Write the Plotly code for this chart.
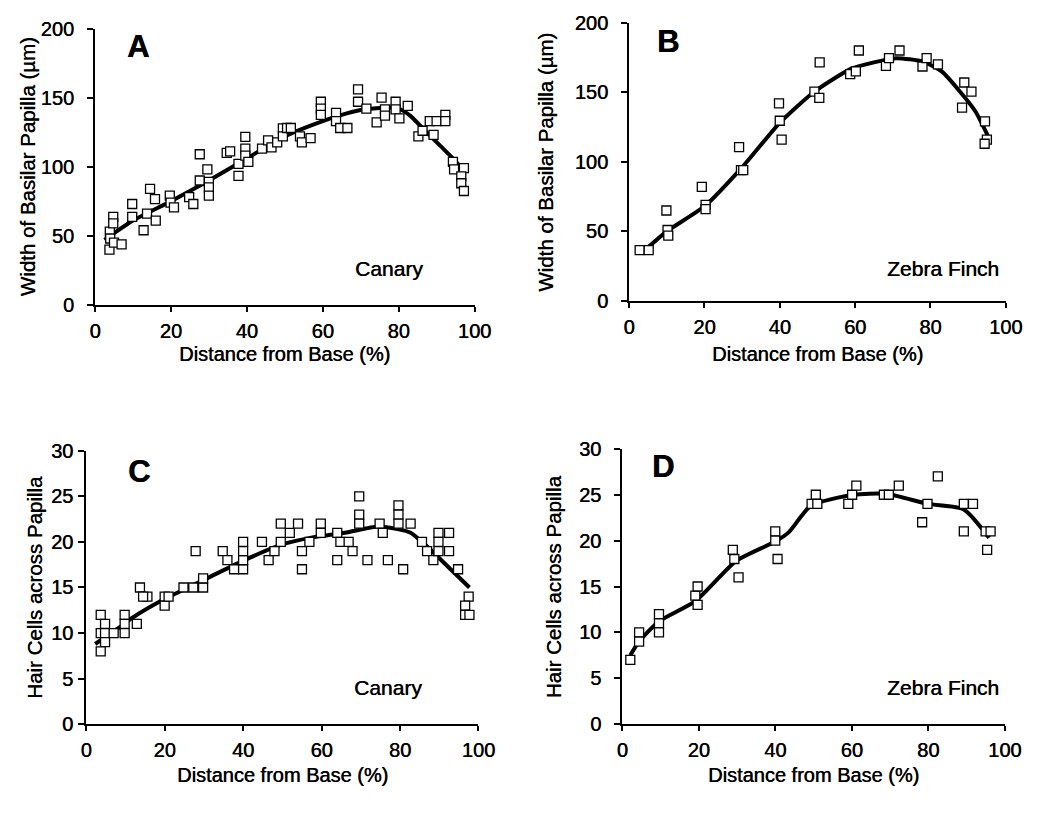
import plotly.graph_objects as go

# ---------------- Data ----------------
# Panel A: Canary, width of basilar papilla (um)
a_x = [3.8, 3.9, 4.8, 4.8, 4.0, 5.0, 7.0, 9.8, 9.8, 12.8, 13.7, 14.5, 15.8, 16.0, 19.7, 19.9, 20.8,
       24.8, 25.9, 27.6, 27.6, 29.6, 30.0, 30.0, 30.0, 34.7, 35.6, 37.8, 37.8, 39.6, 39.6, 39.6, 40.4,
       44.0, 45.6, 46.5, 48.0, 49.5, 49.5, 50.6, 51.6, 54.0, 54.5, 56.8, 59.5, 59.5, 59.5, 63.5, 63.5,
       64.6, 66.5, 69.3, 69.3, 71.5, 74.2, 75.5, 76.4, 76.4, 79.2, 79.2, 80.2, 82.4, 85.2, 86.3, 88.2,
       89.2, 90.0, 92.3, 92.3, 94.3, 94.6, 97.2, 96.5, 96.5, 97.2]
a_y = [40, 53, 63.6, 59, 48, 45, 43.7, 73, 63.6, 54, 66, 84, 76.5, 61, 79, 74, 70.6,
       78, 73, 109, 90, 98, 89, 85, 79, 110, 111, 102, 93.4, 121.6, 113, 108, 103.5,
       113, 119, 114, 117.6, 127.7, 122, 128, 128, 122, 117.6, 120.6, 147, 142, 137.5, 139, 133,
       128, 128, 156, 147, 142, 132, 150, 141.5, 137, 147, 141.5, 135, 144, 122, 126, 133,
       123, 133, 137.5, 133, 103.5, 98, 99, 93, 88, 82.4]
a_fit_x = [2.5, 10, 20, 30, 40, 50, 60, 65, 70, 75, 80, 83, 87, 91, 95, 97]
a_fit_y = [47, 61, 75, 90, 106, 122, 133, 137.5, 141, 142.5, 142, 137, 126, 115, 104, 97]

# Panel B: Zebra Finch, width of basilar papilla (um)
b_x = [2.8, 5.2, 9.9, 10.2, 10.4, 19.3, 20.3, 20.3, 29.2, 29.7, 30.3, 39.8, 40.0, 40.5, 50.6, 49.2,
       50.5, 58.7, 60.2, 61.0, 68.2, 69.0, 71.8, 77.9, 79.0, 82.0, 89.0, 90.9, 88.4, 94.5, 95.0, 94.4]
b_y = [36.5, 36.5, 65, 51, 47, 82, 69, 66, 110.5, 94, 94, 142, 129.5, 116, 171.5, 150.5,
       146, 163, 165, 180, 169, 174.5, 180, 168.5, 174.5, 170, 157, 150.5, 139, 129, 116, 113]
b_fit_x = [4.8, 10, 20, 30, 40, 49, 59, 65, 71, 78, 83, 88, 92, 95.2]
b_fit_y = [38, 50, 68, 96, 128, 150, 167, 171.5, 174.5, 172, 165, 150, 136, 119]

# Panel C: Canary, hair cells across papilla
c_x = [3.7, 4.8, 3.7, 4.8, 4.8, 3.7, 7.0, 9.8, 9.8, 9.8, 12.9, 13.7, 15.6, 14.5, 20.0, 20.0, 21.0,
       24.8, 27.3, 29.8, 29.8, 27.9, 34.8, 36.0, 37.7, 40.0, 40.0, 40.0, 40.0, 44.8, 46.5, 48.0,
       49.6, 49.6, 51.9, 54.0, 55.0, 55.0, 56.9, 59.8, 59.8, 64.0, 64.8, 66.9, 67.9, 64.0,
       69.6, 69.6, 69.6, 71.7, 74.8, 75.6, 76.9, 79.6, 79.6, 79.6, 82.7, 80.8, 85.6, 86.9, 88.5,
       89.8, 89.8, 89.8, 92.5, 92.5, 94.8, 97.5, 96.6, 96.6, 97.7]
c_y = [12, 11, 10, 10, 9, 8, 10, 12, 11, 10, 11, 15, 14, 14, 14, 13, 14,
       15, 15, 15, 16, 19, 19, 18, 17, 17, 18, 19, 20, 20, 18, 19,
       22, 20, 21, 22, 19, 17, 20, 22, 21, 21, 20, 20, 19, 18,
       25, 23, 22, 18, 22, 21, 18, 24, 23, 22, 22, 17, 20, 19, 18,
       21, 20, 19, 21, 19, 17, 14, 13, 12, 12]
c_fit_x = [2.3, 8.1, 11.5, 19.8, 23.1, 29.8, 39.8, 49.8, 57.7, 66, 74.4, 79.4, 82.7, 86.9, 91, 97.7]
c_fit_y = [8.8, 10.5, 11.6, 13.7, 14.4, 15.8, 17.9, 19.7, 20.5, 21, 21.7, 21.4, 21, 19.5, 17.8, 15]

# Panel D: Zebra Finch, hair cells across papilla
d_x = [2.1, 4.4, 4.4, 9.6, 9.6, 9.6, 19.1, 19.7, 19.7, 28.9, 29.3, 30.4, 40.0, 40.0, 40.6, 49.5,
       50.6, 51.0, 59.1, 60.1, 61.2, 68.4, 69.7, 72.3, 79.8, 78.4, 82.5, 89.3, 91.7, 89.3, 95.0,
       96.3, 95.4]
d_y = [7, 10, 9, 12, 11, 10, 14, 15, 13, 19, 18, 16, 21, 20, 18, 24,
       25, 24, 24, 25, 26, 25, 25, 26, 24, 22, 27, 24, 24, 21, 21,
       21, 19]
d_fit_x = [2.1, 4.4, 9.6, 19.1, 29.8, 40, 43.5, 49.3, 60.4, 68.9, 80, 89.3, 95.9]
d_fit_y = [7.5, 9, 11.2, 13.4, 17.8, 19.9, 20.9, 23.8, 25, 25.1, 24, 23.4, 20.3]

x_ticks = [0, 20, 40, 60, 80, 100]
width_ticks = [0, 50, 100, 150, 200]
cells_ticks = [0, 5, 10, 15, 20, 25, 30]

panel_letters = ["A", "B", "C", "D"]
species = ["Canary", "Zebra Finch", "Canary", "Zebra Finch"]
y_titles = ["Width of Basilar Papilla (µm)", "Width of Basilar Papilla (µm)",
            "Hair Cells across Papilla", "Hair Cells across Papilla"]
x_title = "Distance from Base (%)"

# ---------------- Layout helpers ----------------
W, H = 1055, 814
FONT = "Arial, Liberation Sans, sans-serif"
SHADOW = "0.45px 0 0 #000"


def fx(p):
    return p / W


def fy(p):
    return 1 - p / H


def tfont(size):
    return dict(family=FONT, size=size, color="black", shadow=SHADOW)


panels = [
    dict(xs=a_x, ys=a_y, fxs=a_fit_x, fys=a_fit_y, xd=(91, 479), yd=(302, 18), yt=width_ticks,
         letter=(135, 36), sp=(392, 265), ytx=22, xty=353, ystand=9),
    dict(xs=b_x, ys=b_y, fxs=b_fit_x, fys=b_fit_y, xd=(637, 1022), yd=(298, 12), yt=width_ticks,
         letter=(677, 31), sp=(958, 265), ytx=552, xty=353, ystand=9),
    dict(xs=c_x, ys=c_y, fxs=c_fit_x, fys=c_fit_y, xd=(82, 483), yd=(733, 452), yt=cells_ticks,
         letter=(136, 473), sp=(391, 695), ytx=29, xty=785, ystand=1),
    dict(xs=d_x, ys=d_y, fxs=d_fit_x, fys=d_fit_y, xd=(630, 1021), yd=(733, 450), yt=cells_ticks,
         letter=(672, 468), sp=(958, 695), ytx=560, xty=785, ystand=9),
]

fig = go.Figure()
annotations = []
layout_axes = {}

for i, p in enumerate(panels):
    n = i + 1
    xa = "x" if n == 1 else f"x{n}"
    ya = "y" if n == 1 else f"y{n}"
    fig.add_trace(go.Scatter(
        x=p["fxs"], y=p["fys"], mode="lines", xaxis=xa, yaxis=ya,
        line=dict(color="black", width=4, shape="spline", smoothing=0.6),
        hoverinfo="skip", showlegend=False))
    fig.add_trace(go.Scatter(
        x=p["xs"], y=p["ys"], mode="markers", xaxis=xa, yaxis=ya,
        marker=dict(symbol="square", size=9, color="white",
                    line=dict(color="black", width=1.3)),
        showlegend=False))

    xkey = "xaxis" if n == 1 else f"xaxis{n}"
    ykey = "yaxis" if n == 1 else f"yaxis{n}"
    layout_axes[xkey] = dict(
        domain=[fx(p["xd"][0]), fx(p["xd"][1])], anchor=ya, range=[0, 100],
        tickvals=x_ticks, ticktext=[str(v) for v in x_ticks],
        showline=True, linecolor="black", linewidth=2, ticks="outside", ticklen=5,
        tickwidth=1.5, tickcolor="black", showgrid=False, zeroline=False,
        tickfont=tfont(20), ticklabelstandoff=2,
        fixedrange=True)
    yt = p["yt"]
    layout_axes[ykey] = dict(
        domain=[fy(p["yd"][0]), fy(p["yd"][1])], anchor=xa, range=[0, yt[-1]],
        tickvals=yt, ticktext=[str(v) for v in yt],
        showline=True, linecolor="black", linewidth=2, ticks="outside", ticklen=6,
        tickwidth=1.5, tickcolor="black", showgrid=False, zeroline=False,
        tickfont=tfont(20), ticklabelstandoff=p["ystand"],
        fixedrange=True)

    # panel letter
    annotations.append(dict(text=f"<b>{panel_letters[i]}</b>", x=fx(p["letter"][0]), y=fy(p["letter"][1]),
                            xref="paper", yref="paper", showarrow=False, xanchor="center", yanchor="middle",
                            font=tfont(31)))
    # species label
    annotations.append(dict(text=species[i], x=fx(p["sp"][0]), y=fy(p["sp"][1]),
                            xref="paper", yref="paper", showarrow=False, xanchor="center", yanchor="middle",
                            font=tfont(21)))
    # y title
    annotations.append(dict(text=y_titles[i], x=fx(p["ytx"]), y=fy((p["yd"][0] + p["yd"][1]) / 2),
                            xref="paper", yref="paper", showarrow=False, xanchor="center", yanchor="middle",
                            textangle=-90, font=tfont(20.5)))
    # x title
    annotations.append(dict(text=x_title, x=fx((p["xd"][0] + p["xd"][1]) / 2), y=fy(p["xty"]),
                            xref="paper", yref="paper", showarrow=False, xanchor="center", yanchor="middle",
                            font=tfont(20)))

fig.update_layout(
    width=W, height=H, margin=dict(l=0, r=0, t=0, b=0),
    paper_bgcolor="white", plot_bgcolor="white",
    annotations=annotations, showlegend=False,
    **layout_axes)

fig.write_html("out.html", config={"displayModeBar": False})
